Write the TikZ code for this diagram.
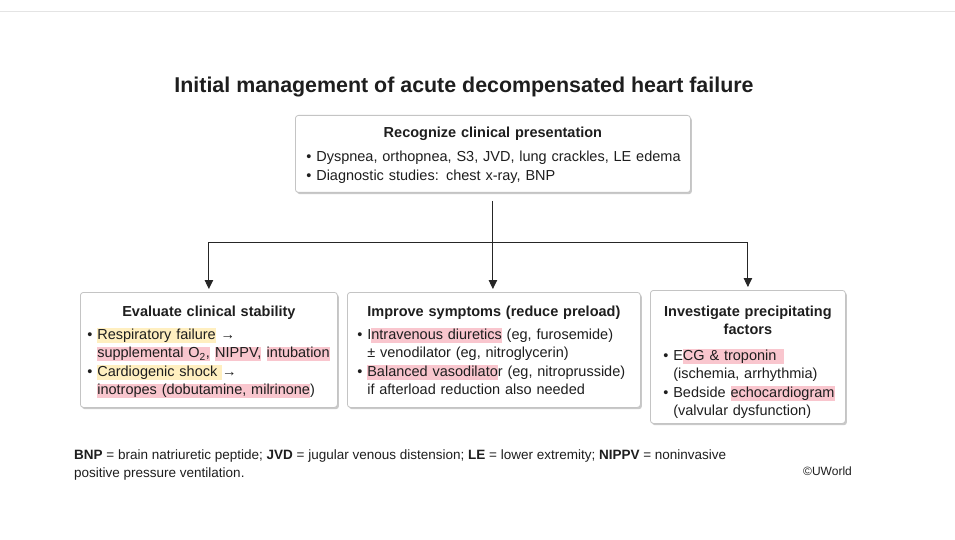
\documentclass[tikz,border=0pt]{standalone}
\usepackage{fontspec}
\setmainfont{Liberation Sans}
\usetikzlibrary{shadows,arrows.meta}
\definecolor{hly}{HTML}{FFEFC0}
\definecolor{hlp}{HTML}{F9C6CE}
\definecolor{boxline}{HTML}{C4C4C4}
\definecolor{txt}{HTML}{1E1E1E}
\definecolor{topline}{HTML}{E4E4E4}
\newcommand\hy[1]{{\setlength{\fboxsep}{0pt}\colorbox{hly}{\rule[-3.6pt]{0pt}{14.8pt}#1}}}
\newcommand\hp[1]{{\setlength{\fboxsep}{0pt}\colorbox{hlp}{\rule[-3.6pt]{0pt}{14.8pt}#1}}}
\newcommand\bl{\textbullet\ }
\newcommand\ind{\hphantom{\textbullet\ }}
\tikzset{
  box/.style={draw=boxline, line width=0.8pt, rounded corners=3pt, fill=white,
    drop shadow={shadow xshift=1.5pt, shadow yshift=-1.8pt, opacity=0.35, fill=black!60},
    text=txt, font=\fontsize{14.5}{18.5}\selectfont, align=left, inner ysep=0pt},
  conn/.style={draw=black!85, line width=0.9pt},
  arr/.style={conn, -{Triangle[length=9pt,width=8.5pt]}, shorten >=3pt},
}
\begin{document}
\begin{tikzpicture}[x=1pt,y=-1pt]
\useasboundingbox (0,0) rectangle (955,540);
\fill[white] (0,0) rectangle (955,540);
\draw[topline, line width=1pt] (0,12) -- (955,12);

\node[font=\fontsize{21.4}{24}\selectfont\bfseries, text=txt] (title) at (464,87) {Initial management of acute decompensated heart failure};

\node[box, anchor=north west, minimum width=395, minimum height=77, text width=373, inner xsep=11pt] (top) at (295,115)
 {\centering\bfseries\rule{0pt}{13pt}Recognize clinical presentation\par\vspace{6pt}\raggedright\mdseries
  \mbox{\bl Dyspnea, orthopnea, S3, JVD, lung crackles, LE edema}\\
  \mbox{\bl Diagnostic studies: chest x-ray, BNP}};

\node[box, anchor=north west, minimum width=257, minimum height=115, text width=243, inner xsep=7pt] (left) at (80,292)
 {\centering\bfseries\rule{0pt}{15pt}Evaluate clinical stability\par\vspace{4.5pt}\raggedright\mdseries
  \bl \hy{Respiratory failure} →\\
  \ind\hp{supplemental O\textsubscript{2},}\hspace{0.5pt} \hp{NIPPV,}\hspace{0.5pt} \hp{intubation}\\
  \bl \hy{Cardiogenic shock }→\\
  \ind\hp{inotropes (dobutamine, milrinone}) };

\node[box, anchor=north west, minimum width=293, minimum height=115, text width=273, inner xsep=10pt] (mid) at (347,292)
 {\centering\bfseries\rule{0pt}{11pt}Improve symptoms (reduce preload)\par\vspace{4.5pt}\raggedright\mdseries
  \bl I\hp{ntravenous diuretics} (eg, furosemide)\\
  \ind ± venodilator (eg, nitroglycerin)\\
  \bl \hp{Balanced vasodilato}r (eg, nitroprusside)\\
  \ind if afterload reduction also needed};

\node[box, anchor=north west, minimum width=195, minimum height=133, text width=169, inner xsep=13pt] (right) at (650,290)
 {\centering\bfseries\rule{0pt}{21pt}Investigate precipitating\\ factors\par\vspace{7pt}\raggedright\mdseries
  \mbox{\bl E\hp{CG \& troponin\hspace{8pt}}}\\
  \mbox{\ind(ischemia, arrhythmia)}\\
  \mbox{\bl Bedside \hp{echocardiogram}}\\
  \mbox{\ind(valvular dysfunction)}};

\coordinate (src) at ([yshift=-8pt]top.south);
\coordinate (jn) at (src |- 0,242);
\coordinate (jl) at (left.north |- jn);
\coordinate (jr) at (right.north |- jn);
\draw[conn] (jl) -- (jr);
\draw[arr] (src) -- (src |- mid.north);
\draw[arr] (jl) -- (left.north);
\draw[arr] (jr) -- (right.north);

\node[anchor=north west, text=txt, font=\fontsize{13.5}{18}\selectfont, align=left, inner sep=0pt] (foot) at (74,450)
 {\textbf{BNP} = brain natriuretic peptide; \textbf{JVD} = jugular venous distension; \textbf{LE} = lower extremity; \textbf{NIPPV} = noninvasive\\
  positive pressure ventilation.};
\node[anchor=west, text=txt, font=\fontsize{12}{13}\selectfont, inner sep=0pt] (copy) at (803,471) {©UWorld};
\end{tikzpicture}
\end{document}
